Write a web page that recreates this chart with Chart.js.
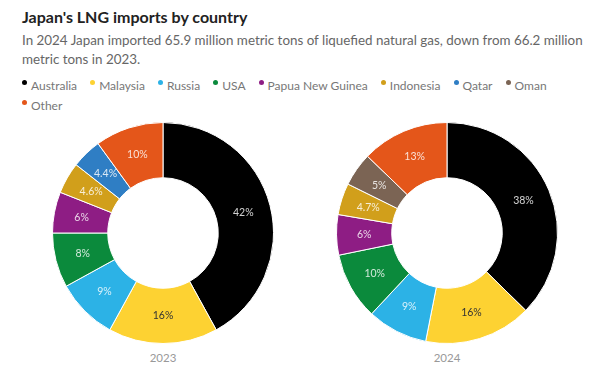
<!DOCTYPE html>
<html><head><meta charset="utf-8">
<script src="https://cdn.jsdelivr.net/npm/chart.js@4/dist/chart.umd.min.js"></script>
<style>
html,body{margin:0;padding:0;background:#fff;width:600px;height:385px;overflow:hidden;font-family:Lato,"Noto Sans",sans-serif;}
#title{position:absolute;left:22px;top:7px;font-size:16px;font-weight:bold;color:#222;}
#sub{position:absolute;left:22px;top:31px;width:570px;font-size:13.4px;line-height:19px;color:#666;}
#legend{position:absolute;left:22px;top:76px;width:570px;font-size:12px;line-height:20px;color:#777;}
#legend span.item{margin-right:10px;white-space:nowrap;}
#legend span.dot{display:inline-block;width:5px;height:5px;border-radius:50%;margin-right:4px;vertical-align:5px;}
.box{position:absolute;width:222px;height:222px;}
.year{position:absolute;top:351px;width:100px;text-align:center;font-size:11.5px;color:#999;}
</style></head>
<body>
<div id="title">Japan's LNG imports by country</div>
<div id="sub">In 2024 Japan imported 65.9 million metric tons of liquefied natural gas, down from 66.2 million metric tons in 2023.</div>
<div id="legend"></div>
<div class="box" style="left:52px;top:122px"><canvas id="c1"></canvas></div>
<div class="box" style="left:336px;top:122px"><canvas id="c2"></canvas></div>
<div class="year" style="left:113px">2023</div>
<div class="year" style="left:397px">2024</div>
<script>
const countries = ["Australia","Malaysia","Russia","USA","Papua New Guinea","Indonesia","Qatar","Oman","Other"];
const colors = ["#000000","#fdd232","#2cb2e6","#0b8a3c","#8e1d84","#d19f1b","#2f7ec4","#7b6454","#e4561a"];
const share2023 = [42,16,9,8,6,4.6,4.4,null,10];
const share2024 = [38,16,9,10,6,4.7,null,5,13];
const years = ["2023","2024"];

const leg = document.getElementById('legend');
countries.forEach((c,i)=>{
  const s=document.createElement('span');s.className='item';
  const d=document.createElement('span');d.className='dot';d.style.background=colors[i];
  s.appendChild(d);s.appendChild(document.createTextNode(c));
  leg.appendChild(s);leg.appendChild(document.createTextNode(' '));
});

const labelPlugin = {
  id:'sliceLabels',
  afterDatasetsDraw(chart){
    const ctx=chart.ctx;
    const meta=chart.getDatasetMeta(0);
    const data=chart.data.datasets[0].data;
    ctx.save();
    ctx.font='10.5px Lato, "Noto Sans", sans-serif';
    ctx.textAlign='center';ctx.textBaseline='middle';
    meta.data.forEach((arc,i)=>{
      const v=data[i];
      if(v===null||v===undefined) return;
      const p=arc.tooltipPosition();
      ctx.fillStyle = i===1 ? '#333' : 'rgba(255,255,255,0.82)';
      ctx.fillText(v+'%',p.x,p.y);
    });
    ctx.restore();
  }
};

function make(id,vals){
  new Chart(document.getElementById(id),{
    type:'doughnut',
    data:{labels:countries,datasets:[{data:vals,backgroundColor:colors,borderColor:'#fff',borderWidth:1}]},
    options:{responsive:true,maintainAspectRatio:false,animation:false,cutout:'50%',
      layout:{padding:0},
      plugins:{legend:{display:false},tooltip:{enabled:false}}},
    plugins:[labelPlugin]
  });
}
make('c1',share2023);
make('c2',share2024);
</script>
</body></html>
